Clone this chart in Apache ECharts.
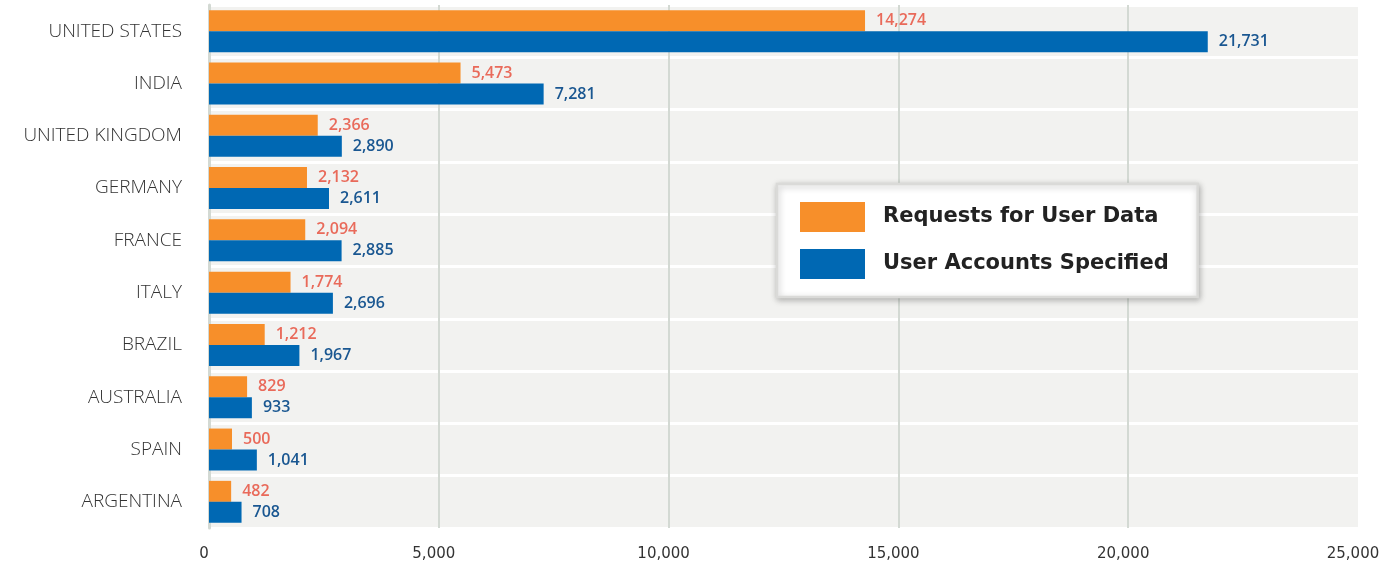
<!DOCTYPE html>
<html><head><meta charset="utf-8">
<script src="https://cdn.jsdelivr.net/npm/echarts@6/dist/echarts.min.js"></script>
<style>html,body{margin:0;padding:0;background:#fff}#c{width:1394px;height:573px}</style>
</head><body><div id="c"></div>
<script>
const categories = ['UNITED STATES','INDIA','UNITED KINGDOM','GERMANY','FRANCE','ITALY','BRAZIL','AUSTRALIA','SPAIN','ARGENTINA'];
const requests = [14274,5473,2366,2132,2094,1774,1212,829,500,482];
const accounts = [21731,7281,2890,2611,2885,2696,1967,933,1041,708];
const xTicks = [0,5000,10000,15000,20000,25000];

const fmt = v => Number(v).toLocaleString('en-US');
const chart = echarts.init(document.getElementById('c'));
chart.setOption({
  animation:false,
  backgroundColor:'#fff',
  grid:{left:209,right:36,top:5,bottom:45,containLabel:false},
  legend:{
    orient:'vertical', left:777, top:184,
    backgroundColor:'#fff',
    shadowColor:'rgba(0,0,0,0.25)', shadowBlur:6, shadowOffsetX:1, shadowOffsetY:2,
    borderColor:'#dadad8', borderWidth:2.5,
    padding:[18,29,18,23],
    itemWidth:65, itemHeight:30, itemGap:17,
    icon:'rect',
    textStyle:{fontFamily:'DejaVu Sans',fontWeight:'bold',fontSize:21,color:'#222',padding:[0,0,0,13]},
    data:['Requests for User Data','User Accounts Specified']
  },
  xAxis:{
    type:'value', min:0, max:25000, interval:5000,
    axisLine:{show:false}, axisTick:{show:false},
    axisLabel:{formatter:v=>fmt(v),fontFamily:'DejaVu Sans',fontSize:15,color:'#333',margin:19,padding:[0,10,0,0]},
    splitLine:{show:true,showMaxLine:false,lineStyle:{color:'#d3d9d3',width:2}}
  },
  yAxis:{
    type:'category', data:categories, inverse:true,
    axisLine:{show:true,lineStyle:{color:'#d3d9d3',width:3}},
    axisTick:{show:false},
    axisLabel:{fontFamily:'Open Sans',fontWeight:300,fontSize:19,color:'#333',margin:27},
    splitArea:{show:true,areaStyle:{color:['#f2f2f0']}},
    splitLine:{show:true,lineStyle:{color:'#fff',width:3}}
  },
  series:[
    {name:'Requests for User Data',type:'bar',data:requests,barWidth:21,barGap:'0%',
     itemStyle:{color:'#f78f2a'},
     label:{show:true,position:'right',distance:11,formatter:p=>fmt(p.value),
       fontFamily:'Open Sans',fontWeight:600,fontSize:16,color:'#e96a5a'}},
    {name:'User Accounts Specified',type:'bar',data:accounts,barWidth:21,barGap:'0%',
     itemStyle:{color:'#0068b3'},
     label:{show:true,position:'right',distance:11,formatter:p=>fmt(p.value),
       fontFamily:'Open Sans',fontWeight:600,fontSize:16,color:'#1a5791'}}
  ]
});
</script></body></html>
